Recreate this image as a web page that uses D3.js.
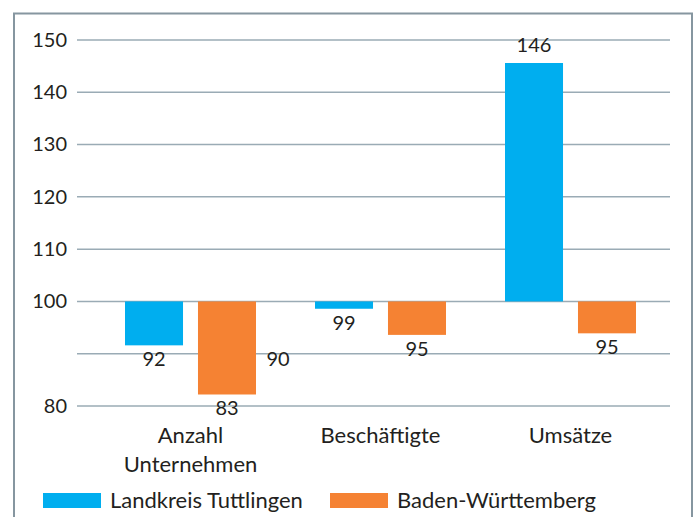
<!DOCTYPE html>
<html lang="de">
<head>
    <meta charset="UTF-8">
    <title>Index</title>
    <script src="https://cdn.jsdelivr.net/npm/d3@7"></script>
    <style>
        body { margin: 0; background: #fff; }
        svg text { font-family: Lato, "Noto Sans", sans-serif; fill: #231f20; }
    </style>
</head>
<body>
    <div id="chart"></div>

    <script>
        const categories = ["Anzahl Unternehmen", "Beschäftigte", "Umsätze"];
        const seriesNames = ["Landkreis Tuttlingen", "Baden-Württemberg"];
        const tuttlingen = [91.6, 98.6, 145.6];
        const badenWue = [82.2, 93.6, 93.9];
        const tuttlingenLabels = ["92", "99", "146"];
        const badenWueLabels = ["83", "95", "95"];
        const yTicks = [80, 100, 110, 120, 130, 140, 150];
        const gridValues = [80, 90, 100, 110, 120, 130, 140, 150];
        const colors = ["#00aeef", "#f58233"];

        const width = 694;
        const height = 517;
        const marginLeft = 77;
        const plotRight = 670;

        const rows = categories.map((c, i) => ({
            category: c,
            values: [
                {series: seriesNames[0], value: tuttlingen[i], label: tuttlingenLabels[i]},
                {series: seriesNames[1], value: badenWue[i], label: badenWueLabels[i]}
            ]
        }));

        const y = d3.scaleLinear()
            .domain([80, 150])
            .range([406, 40]);

        const x0 = d3.scaleBand()
            .domain(categories)
            .range([95.5, 665.5]);

        const x1 = d3.scaleBand()
            .domain(seriesNames)
            .range([29.5, x0.bandwidth() - 29.5])
            .paddingInner(0.205);

        const color = d3.scaleOrdinal().domain(seriesNames).range(colors);

        const svg = d3.select("#chart").append("svg")
            .attr("width", width)
            .attr("height", height);

        // frame
        svg.append("path")
            .attr("d", `M14,${height + 2}V13.5H692V${height + 2}`)
            .attr("fill", "none")
            .attr("stroke", "#8696a0")
            .attr("stroke-width", 2);

        // grid lines
        svg.append("g")
            .selectAll("line")
            .data(gridValues)
            .join("line")
            .attr("x1", marginLeft)
            .attr("x2", plotRight)
            .attr("y1", d => y(d))
            .attr("y2", d => y(d))
            .attr("stroke", "#9aabb5")
            .attr("stroke-width", 1.5);

        // y axis labels
        svg.append("g")
            .attr("transform", `translate(${marginLeft},0)`)
            .call(d3.axisLeft(y).tickValues(yTicks).tickSize(0).tickPadding(10))
            .call(g => g.select(".domain").remove())
            .call(g => g.selectAll("text")
                .attr("font-size", 20)
                .attr("font-family", null)
                .attr("fill", "#231f20"));

        // stray 90 label next to first group
        svg.append("text")
            .attr("x", x0(categories[0]) + x0.bandwidth() - 7.5)
            .attr("y", y(90) + 12)
            .attr("text-anchor", "middle")
            .attr("font-size", 20)
            .text("90");

        // bars
        const group = svg.append("g")
            .selectAll("g")
            .data(rows)
            .join("g")
            .attr("transform", d => `translate(${x0(d.category)},0)`);

        group.selectAll("rect")
            .data(d => d.values)
            .join("rect")
            .attr("x", d => x1(d.series))
            .attr("width", x1.bandwidth())
            .attr("y", d => Math.min(y(d.value), y(100)))
            .attr("height", d => Math.abs(y(d.value) - y(100)))
            .attr("fill", d => color(d.series));

        group.selectAll("text")
            .data(d => d.values)
            .join("text")
            .attr("x", d => x1(d.series) + x1.bandwidth() / 2)
            .attr("y", d => d.value >= 100 ? y(d.value) - 11 : y(d.value) + 21)
            .attr("text-anchor", "middle")
            .attr("font-size", 20)
            .text(d => d.label);

        // category labels
        const catLabel = svg.append("g")
            .selectAll("text")
            .data(categories)
            .join("text")
            .attr("x", d => x0(d) + x0.bandwidth() / 2)
            .attr("y", 443)
            .attr("text-anchor", "middle")
            .attr("font-size", 22);

        catLabel.selectAll("tspan")
            .data(d => d === "Anzahl Unternehmen" ? ["Anzahl", "Unternehmen"] : [d])
            .join("tspan")
            .attr("x", function() { return d3.select(this.parentNode).attr("x"); })
            .attr("dy", (d, i) => i === 0 ? 0 : 29)
            .text(d => d);

        // legend
        const legendX = [43, 330];
        const legend = svg.append("g")
            .selectAll("g")
            .data(seriesNames)
            .join("g")
            .attr("transform", (d, i) => `translate(${legendX[i]},493)`);

        legend.append("rect")
            .attr("width", 58)
            .attr("height", 15)
            .attr("fill", d => color(d));

        legend.append("text")
            .attr("x", 67)
            .attr("y", 15)
            .attr("font-size", 22)
            .text(d => d);
    </script>
</body>
</html>
